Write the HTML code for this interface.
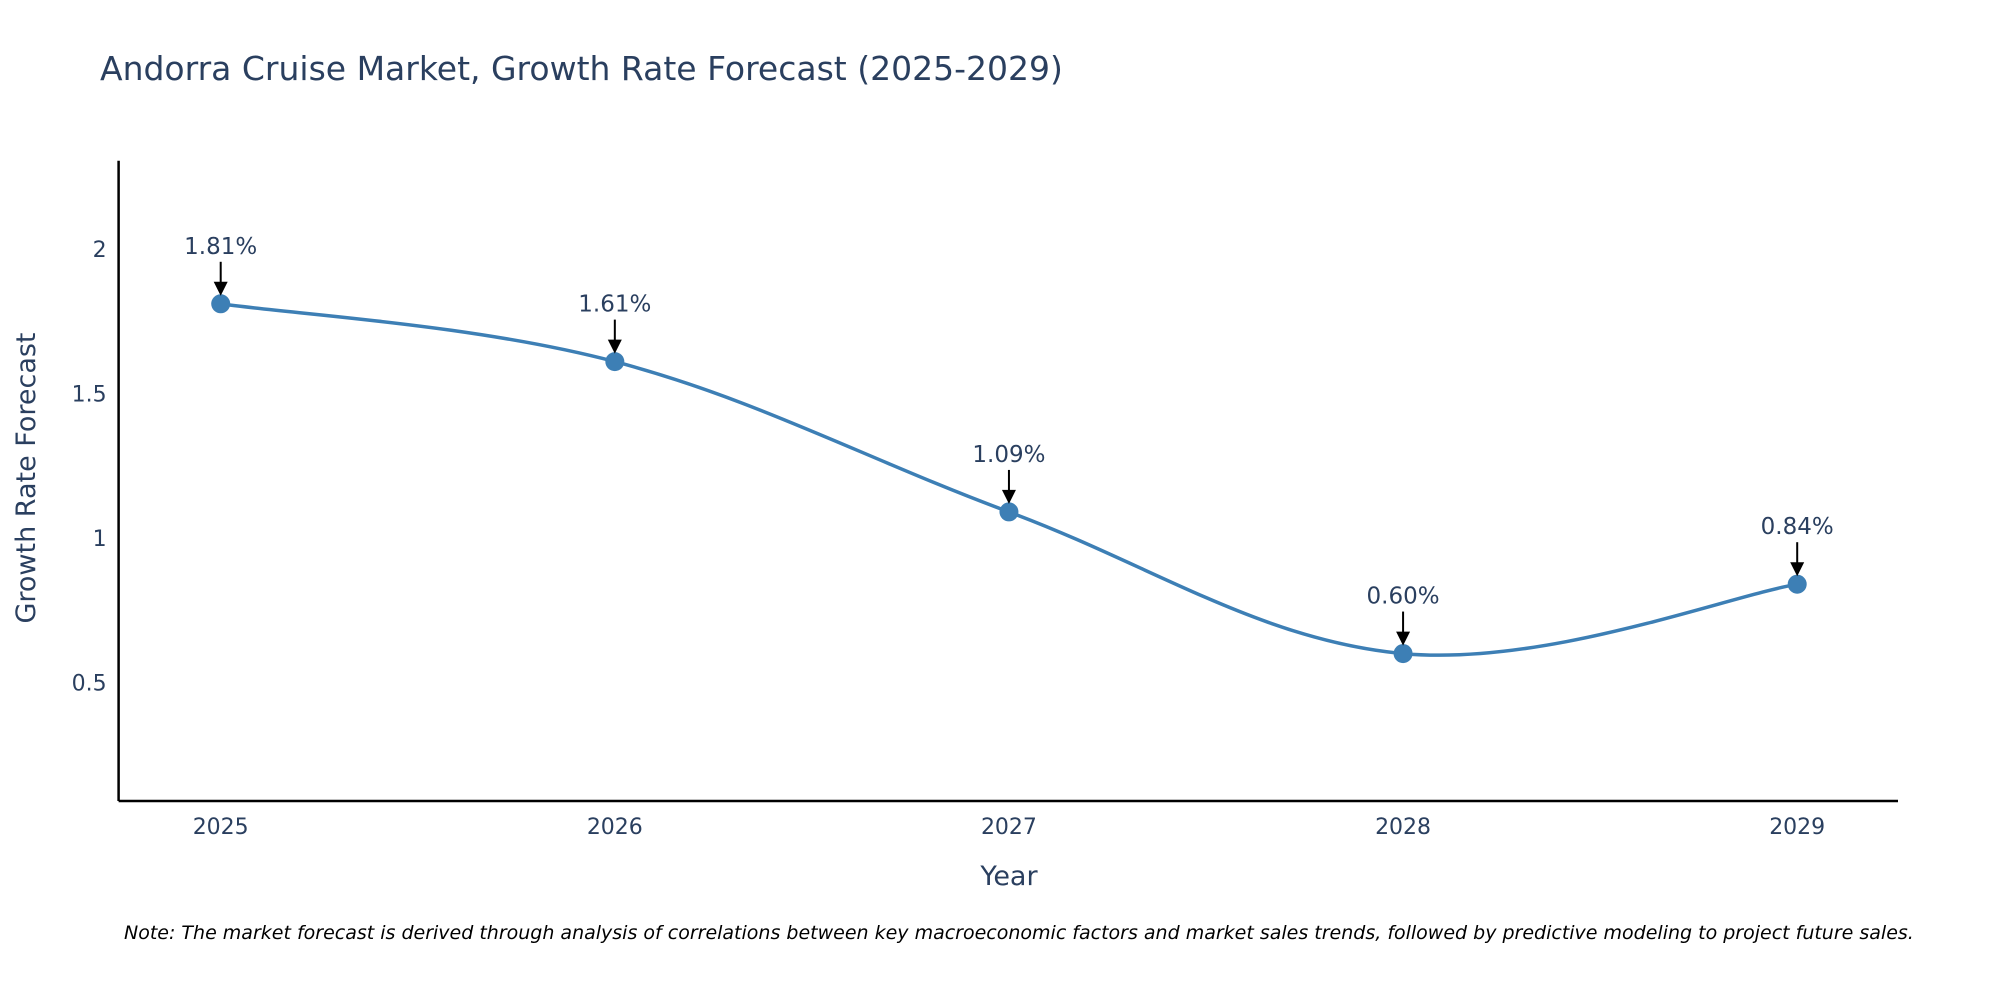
<!DOCTYPE html>
<html><head><meta charset="utf-8"><style>
html,body{margin:0;padding:0;background:#fff;}
svg{display:block;font-family:"DejaVu Sans","Liberation Sans",sans-serif;}
</style></head><body>
<svg id="chart" width="2000" height="1000" viewBox="0 0 2000 1000" xmlns="http://www.w3.org/2000/svg">
<text x="100" y="80" font-size="33" fill="#2a3f5f">Andorra Cruise Market, Growth Rate Forecast (2025-2029)</text>
<g id="plot"></g>
<text x="1009" y="885" font-size="27" fill="#2a3f5f" text-anchor="middle">Year</text>
<text transform="translate(35,478) rotate(-90)" font-size="27" fill="#2a3f5f" text-anchor="middle">Growth Rate Forecast</text>
<text x="124" y="939" font-size="19" font-style="italic" fill="#000">Note: The market forecast is derived through analysis of correlations between key macroeconomic factors and market sales trends, followed by predictive modeling to project future sales.</text>
</svg>
<script>
const years = [2025, 2026, 2027, 2028, 2029];
const growth = [1.81, 1.61, 1.09, 0.60, 0.84];
const labels = ["1.81%", "1.61%", "1.09%", "0.60%", "0.84%"];
const yTicks = [0.5, 1, 1.5, 2];
const yTickLabels = ["0.5", "1", "1.5", "2"];

const NS = "http://www.w3.org/2000/svg";
const g = document.getElementById('plot');
const L = 118.6, R = 1898, T = 160.7, B = 801;
const yMin = 0.09, yMax = 2.305;
const x0 = 220.7, dx = (1797.2 - 220.7) / 4;
const xs = v => x0 + (v - years[0]) * dx;
const ys = v => B - (v - yMin) / (yMax - yMin) * (B - T);
function el(tag, attrs) { const e = document.createElementNS(NS, tag); for (const k in attrs) e.setAttribute(k, attrs[k]); g.appendChild(e); return e; }

let ax = el('line', {x1: L, y1: B, x2: R, y2: B, stroke: '#000', 'stroke-width': 2.5});


let ay = el('line', {x1: L, y1: T, x2: L, y2: B, stroke: '#000', 'stroke-width': 2.5});



yTicks.forEach((v, i) => {
  const t = el('text', {x: L - 12, y: ys(v) + 8, 'font-size': 22, fill: '#2a3f5f', 'text-anchor': 'end'});
  t.textContent = yTickLabels[i];
  
  
});
years.forEach(v => {
  const t = el('text', {x: xs(v), y: 834, 'font-size': 22, fill: '#2a3f5f', 'text-anchor': 'middle'});
  t.textContent = String(v);
  
  
});

const pts = years.map((v, i) => [xs(v), ys(growth[i])]);
let d = `M${pts[0][0]},${pts[0][1]}`;
const k = 0.18;
for (let i = 0; i < pts.length - 1; i++) {
  const p0 = pts[Math.max(0, i - 1)], p1 = pts[i], p2 = pts[i + 1], p3 = pts[Math.min(pts.length - 1, i + 2)];
  const c1 = [p1[0] + (p2[0] - p0[0]) * k, p1[1] + (p2[1] - p0[1]) * k];
  const c2 = [p2[0] - (p3[0] - p1[0]) * k, p2[1] - (p3[1] - p1[1]) * k];
  d += ` C${c1[0]},${c1[1]} ${c2[0]},${c2[1]} ${p2[0]},${p2[1]}`;
}
const line = el('path', {d: d, fill: 'none', stroke: '#3d7fb5', 'stroke-width': 3.5});



pts.forEach((p, i) => {
  const c = el('circle', {cx: p[0], cy: p[1], r: 9.5, fill: '#3d7fb5'});
  
  
  const a = el('line', {x1: p[0], y1: p[1] - 42, x2: p[0], y2: p[1] - 20, stroke: '#000', 'stroke-width': 2});
  
  
  const h = el('polygon', {points: `${p[0]-7},${p[1]-22} ${p[0]+7},${p[1]-22} ${p[0]},${p[1]-8}`, fill: '#000'});
  
  
  const t = el('text', {x: p[0], y: p[1] - 50, 'font-size': 23, fill: '#2a3f5f', 'text-anchor': 'middle'});
  t.textContent = labels[i];
  
  
});
</script>
</body></html>
